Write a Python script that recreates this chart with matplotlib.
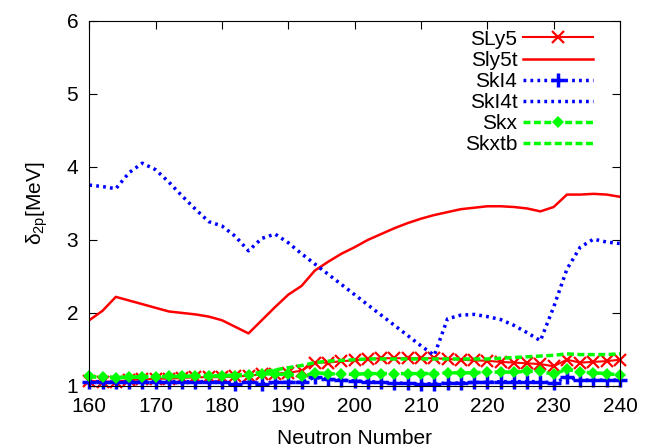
import numpy as np
import matplotlib
matplotlib.use("Agg")
from matplotlib import pyplot as plt

plt.rcParams['font.family'] = ['Liberation Sans', 'DejaVu Sans']
plt.rcParams['mathtext.default'] = 'regular'
plt.rcParams['font.size'] = 15

# Neutron numbers, every 2 from 160 to 240
neutrons = np.arange(160, 241, 2)

sly5 = [1.07, 1.06, 1.06, 1.08, 1.09, 1.10, 1.10, 1.11, 1.12, 1.12,
        1.12, 1.13, 1.14, 1.16, 1.17, 1.18, 1.21, 1.32, 1.32, 1.34,
        1.35, 1.37, 1.38, 1.38, 1.38, 1.38, 1.38, 1.37, 1.36, 1.35,
        1.345, 1.33, 1.32, 1.31, 1.30, 1.27, 1.36, 1.32, 1.33, 1.34, 1.36]
sly5t = [1.90, 2.03, 2.22, 2.17, 2.12, 2.07, 2.02, 2.00, 1.98, 1.95,
         1.90, 1.81, 1.72, 1.90, 2.08, 2.25, 2.37, 2.58, 2.70, 2.81,
         2.90, 3.00, 3.08, 3.16, 3.23, 3.29, 3.34, 3.38, 3.42, 3.44,
         3.46, 3.46, 3.45, 3.43, 3.39, 3.45, 3.62, 3.62, 3.63, 3.62, 3.59]
ski4 = [1.06, 1.06, 1.05, 1.06, 1.06, 1.06, 1.06, 1.06, 1.06, 1.06,
        1.05, 1.03, 1.06, 1.03, 1.05, 1.05, 1.05, 1.12, 1.09, 1.08,
        1.07, 1.06, 1.05, 1.04, 1.035, 1.03, 1.03, 1.04, 1.04, 1.05,
        1.05, 1.06, 1.06, 1.06, 1.06, 1.04, 1.12, 1.08, 1.08, 1.08, 1.08]
ski4t = [3.75, 3.73, 3.70, 3.92, 4.05, 3.96, 3.79, 3.60, 3.42, 3.25,
         3.19, 3.05, 2.85, 3.02, 3.08, 2.96, 2.81, 2.67, 2.53, 2.39,
         2.25, 2.11, 1.97, 1.83, 1.69, 1.55, 1.42, 1.92, 1.97, 1.98,
         1.95, 1.91, 1.83, 1.73, 1.62, 2.08, 2.60, 2.90, 3.01, 2.97, 2.95]
skx = [1.13, 1.12, 1.11, 1.12, 1.12, 1.12, 1.13, 1.13, 1.13, 1.13,
       1.14, 1.14, 1.15, 1.17, 1.16, 1.16, 1.13, 1.18, 1.17, 1.16,
       1.16, 1.17, 1.17, 1.17, 1.17, 1.17, 1.17, 1.18, 1.18, 1.18,
       1.19, 1.19, 1.19, 1.20, 1.20, 1.16, 1.23, 1.19, 1.18, 1.17, 1.15]
skxtb = [1.13, 1.12, 1.12, 1.12, 1.13, 1.13, 1.13, 1.13, 1.14, 1.14,
         1.14, 1.15, 1.16, 1.19, 1.22, 1.25, 1.28, 1.32, 1.34, 1.35,
         1.36, 1.37, 1.37, 1.37, 1.37, 1.37, 1.37, 1.37, 1.37, 1.37,
         1.37, 1.38, 1.39, 1.40, 1.41, 1.42, 1.44, 1.43, 1.43, 1.43, 1.44]

fig = plt.figure(figsize=(6.48, 4.48), dpi=100)
ax = fig.add_axes([0.1378, 0.1384, 0.819, 0.8154])

dots = (0, (0.8, 1.2))
dashes = (0, (2.0, 1.0))

ax.plot(neutrons, sly5, color='#ff0000', lw=1.5, marker='x', ms=9, mew=1.6,
        label='SLy5', clip_on=False)
ax.plot(neutrons, sly5t, color='#ff0000', lw=1.8, label='Sly5t')
ax.plot(neutrons, ski4, color='#0000ff', lw=2.5, ls=dots, marker='+', ms=10,
        mew=2.5, label='SkI4', clip_on=False)
ax.plot(neutrons, ski4t, color='#0000ff', lw=2.5, ls=dots, label='SkI4t')
ax.plot(neutrons, skx, color='#00ff00', lw=2.5, ls=dashes, marker='D', ms=6,
        mew=0, label='Skx', clip_on=False)
ax.plot(neutrons, skxtb, color='#00ff00', lw=2.5, ls=dashes, label='Skxtb')

ax.set_xlim(160, 240)
ax.set_ylim(1, 6)
ax.set_xticks(np.arange(160, 241, 10))
ax.set_yticks(np.arange(1, 7, 1))
ax.tick_params(direction='in', top=True, right=True, length=6, pad=8)
ax.set_xlabel('Neutron Number', labelpad=9)
ax.set_ylabel('δ$_{2p}$[MeV]', labelpad=12)

ax.legend(loc='upper right', bbox_to_anchor=(0.9655, 0.998), frameon=False,
          markerfirst=False, numpoints=1, handlelength=3.4,
          labelspacing=0.1, borderaxespad=0, handletextpad=0.25)

fig.savefig('out.png', dpi=100)
